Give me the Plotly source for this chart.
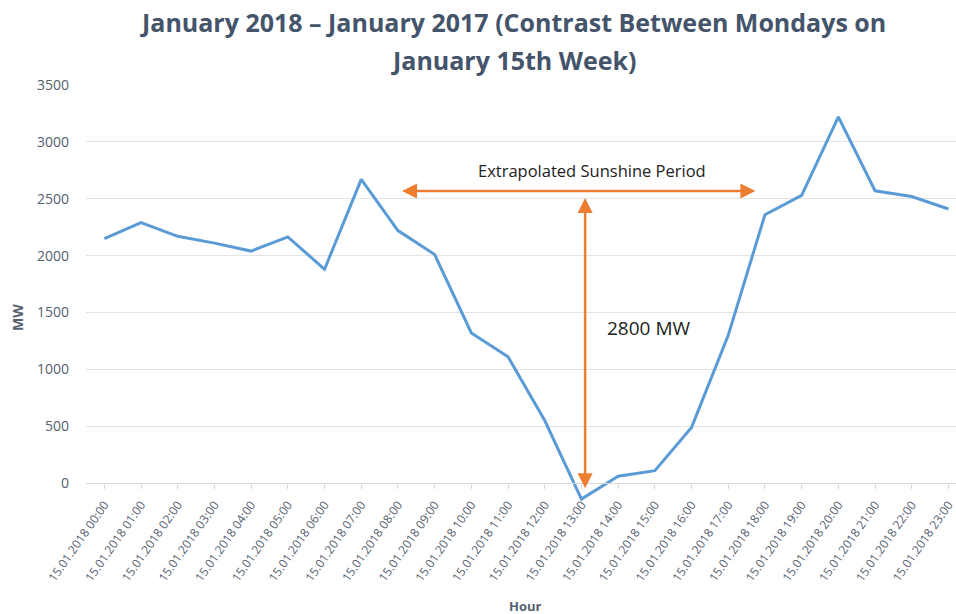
import plotly.graph_objects as go

hours = [f"15.01.2018 {h:02d}:00" for h in range(24)]
mw = [2150, 2290, 2170, 2110, 2040, 2165, 1880, 2670, 2220, 2010, 1320, 1110,
      550, -140, 60, 110, 490, 1300, 2360, 2530, 3220, 2570, 2520, 2410]
y_ticks = [-500, 0, 500, 1000, 1500, 2000, 2500, 3000, 3500]
y_tick_text = ["", "0", "500", "1000", "1500", "2000", "2500", "3000", "3500"]

title_lines = ["January 2018 \u2013 January 2017 (Contrast Between Mondays on", "January 15th Week)"]
period_label = "Extrapolated Sunshine Period"
gap_label = "2800 MW"
period_start, period_end, period_level = 8.07, 17.74, 2568
gap_x, gap_top, gap_bottom = 13.1, 2520, -45

W, H = 956, 614
ml, mr, mt, mb = 86, 0, 85, 74
plot_w = W - ml - mr
plot_h = H - mt - mb
cat_px = 36.7
x_end = -0.5 + plot_w / cat_px


def px_x(p):
    return (p - ml) / plot_w


def px_y(p):
    return (mt + plot_h - p) / plot_h


fig = go.Figure()
fig.add_trace(go.Scatter(
    x=list(range(24)), y=mw, mode="lines",
    line=dict(color="#5B9BD5", width=3),
    showlegend=False, hoverinfo="skip"))

axis_font = dict(family="Open Sans", color="#56606F")
fig.update_layout(
    width=W, height=H,
    margin=dict(l=ml, r=mr, t=mt, b=mb, autoexpand=False),
    paper_bgcolor="white", plot_bgcolor="white",
    xaxis=dict(
        range=[-0.5, x_end], automargin=False,
        tickmode="array", tickvals=list(range(24)), ticktext=hours,
        tickangle=-55, tickfont=dict(size=12, **axis_font),
        ticks="outside", ticklen=5, tickcolor="#D9D9D9", tickson="boundaries",
        ticklabeloverflow="allow", ticklabelstandoff=4,
        showgrid=False, zeroline=False,
        showline=True, linecolor="#D9D9D9", linewidth=1,
        anchor="free", position=(540 - 483) / plot_h,
    ),
    yaxis=dict(
        range=[-500, 3500], automargin=False,
        tickmode="array", tickvals=y_ticks, ticktext=y_tick_text,
        tickfont=dict(size=14, **axis_font),
        showgrid=True, gridcolor="#E3E3E3", gridwidth=1,
        zeroline=False, showline=False, ticks="",
        ticklabelstandoff=16,
    ),
)

annotations = []
for line, ypx in zip(title_lines, [22, 60]):
    annotations.append(dict(x=px_x(513), y=px_y(ypx),
                            xref="paper", yref="paper", showarrow=False,
                            xanchor="center", yanchor="middle",
                            text=f"<b>{line}</b>",
                            font=dict(family="Open Sans", size=25, color="#44546A")))
annotations.append(dict(x=px_x(17), y=px_y(318),
                        xref="paper", yref="paper", showarrow=False, textangle=-90,
                        xanchor="center", yanchor="middle",
                        text="<b>MW</b>", font=dict(size=14, **axis_font)))
annotations.append(dict(x=px_x(525), y=px_y(606),
                        xref="paper", yref="paper", showarrow=False,
                        xanchor="center", yanchor="middle",
                        text="<b>Hour</b>", font=dict(size=13, **axis_font)))
# horizontal double arrow
annotations.append(dict(x=period_end, y=period_level, ax=period_start, ay=period_level,
                        xref="x", yref="y", axref="x", ayref="y", text="",
                        showarrow=True, arrowhead=2, startarrowhead=2, arrowside="end+start",
                        arrowsize=1.2, startarrowsize=1.2, arrowwidth=2.5, arrowcolor="#ED7D31"))
# vertical double arrow
annotations.append(dict(x=gap_x, y=gap_bottom, ax=gap_x, ay=gap_top,
                        xref="x", yref="y", axref="x", ayref="y", text="",
                        showarrow=True, arrowhead=2, startarrowhead=2, arrowside="end+start",
                        arrowsize=1.2, startarrowsize=1.2, arrowwidth=2.5, arrowcolor="#ED7D31"))
annotations.append(dict(x=13.3, y=2752, xref="x", yref="y", showarrow=False,
                        xanchor="center", yanchor="middle",
                        text=period_label,
                        font=dict(family="Open Sans", size=16.5, color="#222222")))
annotations.append(dict(x=13.63, y=1363, xref="x", yref="y", showarrow=False,
                        xanchor="left", yanchor="middle", text=gap_label,
                        font=dict(family="Open Sans", size=19, color="#222222")))
fig.update_layout(annotations=annotations)

fig.write_html("out.html", config={"displayModeBar": False},
               post_script="document.body.style.margin='0';document.body.style.overflow='hidden';")
